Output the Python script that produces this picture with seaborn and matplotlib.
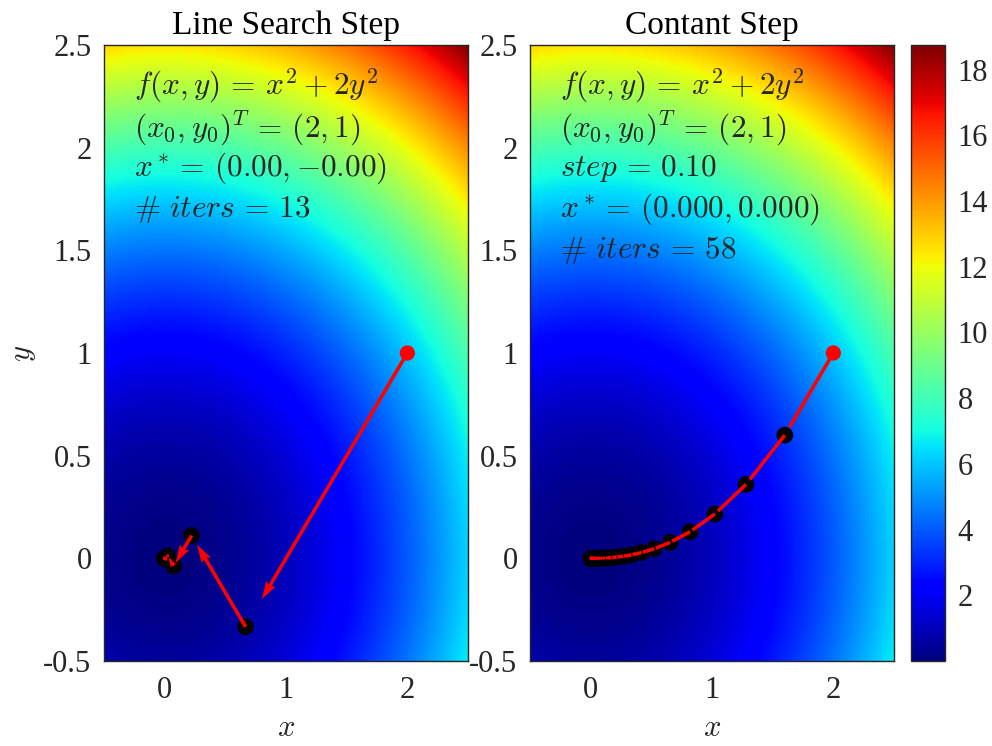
import numpy as np
import matplotlib
matplotlib.use("Agg")
import matplotlib.pyplot as plt
import seaborn as sns

# plotting window and tick layout
x_range = [-0.5, 2.5]
y_range = [-0.5, 2.5]
x_ticks = [0, 1, 2]
x_tick_labels = ["0", "1", "2"]
y_ticks = [-0.5, 0, 0.5, 1, 1.5, 2, 2.5]
y_tick_labels = ["-0.5", "0", "0.5", "1", "1.5", "2", "2.5"]
color_ticks = [2, 4, 6, 8, 10, 12, 14, 16, 18]
color_max = 18.75

# steepest descent iterates with exact line search
ls_x = [2.0, 0.6667, 0.2222, 0.0741, 0.0247, 0.0082, 0.0027, 0.0009, 0.0003, 0.0001, 0.0]
ls_y = [1.0, -0.3333, 0.1111, -0.0370, 0.0123, -0.0041, 0.0014, -0.0005, 0.0002, -0.0001, 0.0]

# gradient descent iterates with a constant step of 0.10
cs_x = [2.0, 1.6, 1.28, 1.024, 0.8192, 0.6554, 0.5243, 0.4194, 0.3355, 0.2684,
        0.2147, 0.1718, 0.1374, 0.1100, 0.0880, 0.0704, 0.0563, 0.0450, 0.0360, 0.0288,
        0.0231, 0.0184, 0.0148, 0.0118, 0.0094, 0.0076, 0.0060, 0.0048, 0.0039, 0.0031,
        0.0025]
cs_y = [1.0, 0.6, 0.36, 0.216, 0.1296, 0.0778, 0.0467, 0.0280, 0.0168, 0.0101,
        0.0060, 0.0036, 0.0022, 0.0013, 0.0008, 0.0005, 0.0003, 0.0002, 0.0001, 0.0001,
        0.0, 0.0, 0.0, 0.0, 0.0, 0.0, 0.0, 0.0, 0.0, 0.0,
        0.0]

titles = ["Line Search Step", "Contant Step"]
ls_text = [r"$f(x,y)\,=\,x^2+2y^2$",
           r"$(x_0,y_0)^T\,=\,(2,1)$",
           r"$x^*=\,(0.00,{-}0.00)$",
           r"$\#\ iters\,=\,13$"]
cs_text = [r"$f(x,y)\,=\,x^2+2y^2$",
           r"$(x_0,y_0)^T\,=\,(2,1)$",
           r"$step\,=\,0.10$",
           r"$x^*=\,(0.000,0.000)$",
           r"$\#\ iters\,=\,58$"]
text_y = [2.3, 2.1, 1.9, 1.7, 1.5]

sns.set_theme(style="white")
plt.rcParams["font.family"] = ["Liberation Serif", "DejaVu Serif"]
plt.rcParams["mathtext.fontset"] = "cm"

W, H = 992, 746
fig = plt.figure(figsize=(W / 100, H / 100), dpi=100)
fig.patch.set_facecolor("white")

bottom = (H - 661) / H
height = 616 / H
ax_l = fig.add_axes([104 / W, bottom, 364 / W, height])
ax_r = fig.add_axes([530 / W, bottom, 364 / W, height])
cax = fig.add_axes([911 / W, bottom, 34 / W, height])

# objective surface
gx = np.linspace(x_range[0], x_range[1], 400)
gy = np.linspace(y_range[0], y_range[1], 400)
Z = gx[None, :] ** 2 + 2 * gy[:, None] ** 2

edge = "#262626"
tick_fs = 22
math_fs = 22.5


def draw_path(ax, px, py, heads):
    px = np.asarray(px)
    py = np.asarray(py)
    sns.scatterplot(x=px[1:], y=py[1:], color="black", s=145, edgecolor="none",
                    ax=ax, zorder=3, legend=False)
    sns.scatterplot(x=px[:1], y=py[:1], color="red", s=120, edgecolor="none",
                    ax=ax, zorder=3, legend=False)
    u = np.diff(px)
    v = np.diff(py)
    if heads:
        hw, hl, hal = 3.0, 5.0, 4.5
    else:
        hw, hl, hal = 1, 0, 0
    ax.quiver(px[:-1], py[:-1], u, v, angles="xy", scale_units="xy", scale=1 / 0.9,
              color="red", units="dots", width=3.6, headwidth=hw, headlength=hl,
              headaxislength=hal, zorder=4)


for ax, title, lines, px, py, heads in [
    (ax_l, titles[0], ls_text, ls_x, ls_y, True),
    (ax_r, titles[1], cs_text, cs_x, cs_y, False),
]:
    im = ax.imshow(Z, extent=[x_range[0], x_range[1], y_range[0], y_range[1]],
                   origin="lower", cmap="jet", vmin=0, vmax=color_max,
                   aspect="auto", interpolation="bilinear", zorder=1)
    draw_path(ax, px, py, heads)
    for s, ty in zip(lines, text_y):
        ax.text(-0.25, ty, s, fontsize=math_fs, va="center", ha="left", zorder=5)
    ax.set_xlim(x_range)
    ax.set_ylim(y_range)
    ax.set_xticks(x_ticks)
    ax.set_xticklabels(x_tick_labels)
    ax.set_yticks(y_ticks)
    ax.set_yticklabels(y_tick_labels)
    ax.tick_params(length=0, labelsize=tick_fs, colors="#262626")
    ax.tick_params(axis="x", pad=11)
    ax.tick_params(axis="y", pad=9)
    ax.set_xlabel(r"$x$", fontsize=tick_fs, labelpad=6, color="#262626")
    ax.set_title(title, fontsize=24, pad=8, color="black")
    for sp in ax.spines.values():
        sp.set_color(edge)
        sp.set_linewidth(1.0)
        sp.set_zorder(6)

ax_l.set_ylabel(r"$y$", fontsize=tick_fs, labelpad=4, color="#262626")

cb = fig.colorbar(im, cax=cax)
cb.set_ticks(color_ticks)
cb.set_ticklabels([str(t) for t in color_ticks])
cax.tick_params(direction="in", length=5, width=0.8, labelsize=tick_fs,
                colors="#262626", pad=9, right=True)
cb.outline.set_edgecolor(edge)
cb.outline.set_linewidth(1.0)

fig.savefig("out.png", dpi=100, facecolor="white")
